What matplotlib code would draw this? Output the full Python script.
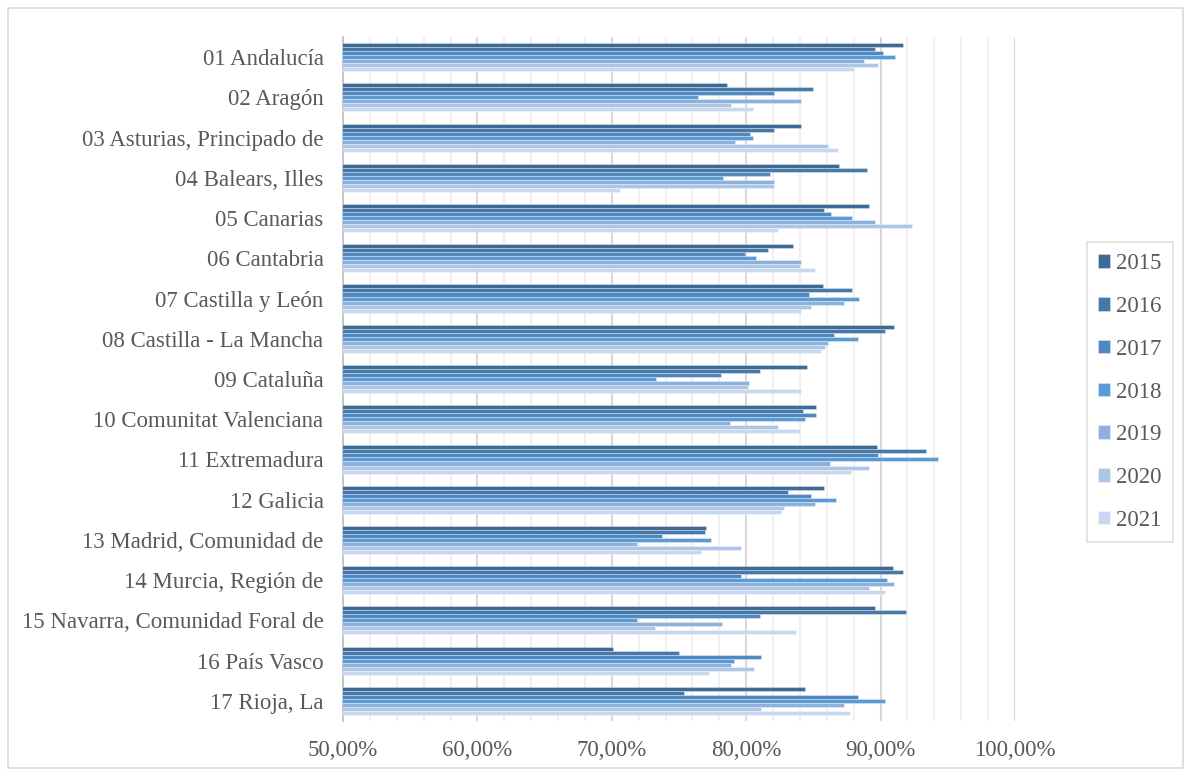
import matplotlib

matplotlib.use("Agg")

import matplotlib.pyplot as plt
import numpy as np
from matplotlib.patches import Rectangle
from matplotlib.ticker import FuncFormatter, MultipleLocator

plt.rcParams.update(
    {
        "font.family": ["Liberation Serif", "DejaVu Serif"],
        "font.size": 16.5,
        "text.color": "#595959",
        "xtick.color": "#595959",
        "ytick.color": "#595959",
    }
)

regions = [
    "01 Andalucía",
    "02 Aragón",
    "03 Asturias, Principado de",
    "04 Balears, Illes",
    "05 Canarias",
    "06 Cantabria",
    "07 Castilla y León",
    "08 Castilla - La Mancha",
    "09 Cataluña",
    "10 Comunitat Valenciana",
    "11 Extremadura",
    "12 Galicia",
    "13 Madrid, Comunidad de",
    "14 Murcia, Región de",
    "15 Navarra, Comunidad Foral de",
    "16 País Vasco",
    "17 Rioja, La",
]
years = ["2015", "2016", "2017", "2018", "2019", "2020", "2021"]

# percentage per region, one list per year
v2015 = [91.7, 78.6, 84.1, 86.9, 89.1, 83.5, 85.7, 91.0, 84.5, 85.2, 89.7, 85.8, 77.0, 90.9, 89.6, 70.1, 84.4]
v2016 = [89.6, 85.0, 82.1, 89.0, 85.8, 81.6, 87.9, 90.3, 81.0, 84.2, 93.4, 83.1, 76.9, 91.7, 91.9, 75.0, 75.4]
v2017 = [90.2, 82.1, 80.3, 81.8, 86.3, 79.9, 84.7, 86.5, 78.1, 85.2, 89.8, 84.8, 73.7, 79.6, 81.0, 81.1, 88.3]
v2018 = [91.1, 76.4, 80.5, 78.3, 87.9, 80.7, 88.4, 88.3, 73.3, 84.4, 94.3, 86.7, 77.4, 90.5, 71.9, 79.1, 90.3]
v2019 = [88.8, 84.1, 79.2, 82.1, 89.6, 84.1, 87.3, 86.1, 80.2, 78.8, 86.2, 85.1, 71.9, 91.0, 78.2, 78.9, 87.3]
v2020 = [89.8, 78.9, 86.1, 82.1, 92.3, 84.0, 84.8, 85.9, 80.1, 82.4, 89.1, 82.8, 79.6, 89.1, 73.2, 80.6, 81.1]
v2021 = [88.0, 80.5, 86.8, 70.6, 82.4, 85.1, 84.1, 85.6, 84.1, 84.0, 87.8, 82.6, 76.6, 90.3, 83.7, 77.2, 87.7]
series = [v2015, v2016, v2017, v2018, v2019, v2020, v2021]

colors = ["#3e6a96", "#4878a8", "#5088c0", "#5b9bd5", "#8db1dd", "#aec6e6", "#c8d8ee"]

fig = plt.figure(figsize=(11.91, 7.76), dpi=100)
ax = fig.add_axes([343 / 1191, 1 - 721 / 776, 672 / 1191, 684 / 776])

y = np.arange(len(regions))
h = 0.7 / len(years)
for j, (year, vals) in enumerate(zip(years, series)):
    ax.barh(
        y + (j - 3) * h,
        vals,
        height=h,
        left=0,
        color=colors[j],
        edgecolor=(1, 1, 1, 0.45),
        linewidth=0.5,
        label=year,
        zorder=3,
    )

ax.set_xlim(50, 100)
ax.set_ylim(len(regions) - 0.5, -0.5)
ax.xaxis.set_major_locator(MultipleLocator(10))
ax.xaxis.set_minor_locator(MultipleLocator(2))
ax.xaxis.set_major_formatter(FuncFormatter(lambda v, _: f"{v:.2f}%".replace(".", ",")))
ax.grid(True, axis="x", which="major", color="#d9d9d9", linewidth=1.5, zorder=0)
ax.grid(True, axis="x", which="minor", color="#f0f0f0", linewidth=1.5, zorder=0)

ax.set_yticks(y)
ax.set_yticklabels(regions)
ax.tick_params(axis="y", length=0, pad=14)
ax.tick_params(axis="x", which="both", length=0, pad=14)

for side in ["top", "right", "bottom"]:
    ax.spines[side].set_visible(False)
ax.spines["left"].set_color("#bfbfbf")
ax.spines["left"].set_linewidth(1.2)

leg = fig.legend(
    loc="center left",
    bbox_to_anchor=(1087 / 1191, 1 - 392 / 776),
    borderaxespad=0,
    frameon=True,
    fancybox=False,
    handlelength=0.52,
    handleheight=0.52,
    handletextpad=0.25,
    labelspacing=0.95,
    borderpad=0.5,
    fontsize=16.5,
)
leg.get_frame().set_edgecolor("#d9d9d9")
leg.get_frame().set_linewidth(1.2)

fig.patches.append(
    Rectangle(
        (8 / 1191, 8 / 776),
        1175 / 1191,
        760 / 776,
        transform=fig.transFigure,
        fill=False,
        edgecolor="#d9d9d9",
        linewidth=1.2,
    )
)

fig.savefig("out.png", dpi=100)
